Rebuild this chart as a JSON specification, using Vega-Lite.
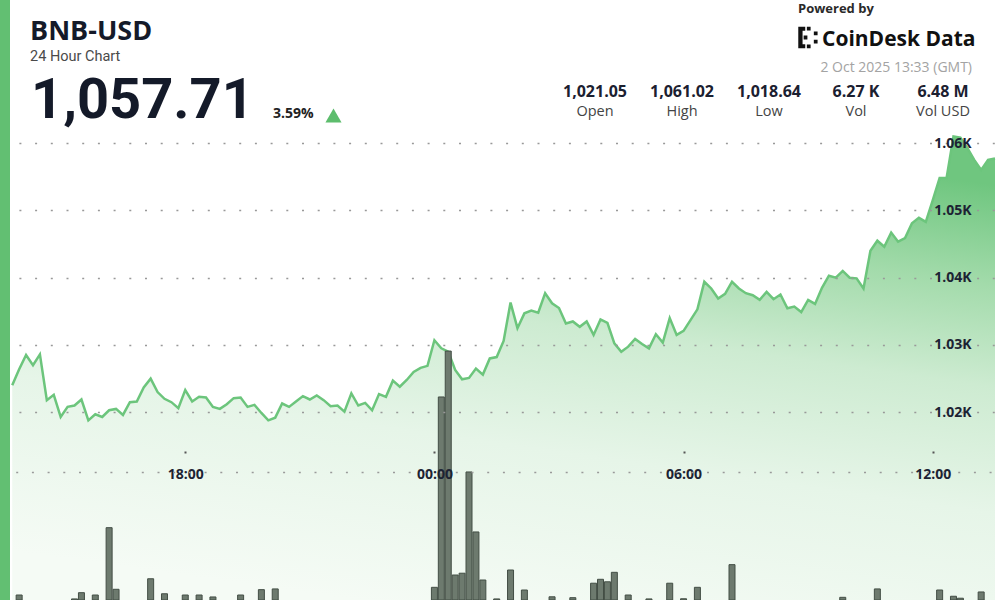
{
  "$schema": "https://vega.github.io/schema/vega-lite/v6.json",
  "padding": 0,
  "background": "#ffffff",
  "spacing": 0,
  "config": {
    "view": {"stroke": null},
    "font": "Open Sans",
    "concat": {"spacing": 0},
    "text": {"font": "Open Sans"}
  },
  "datasets": {
    "series": [
      {"t": "2025-10-01T13:50", "p": 1024.0},
      {"t": "2025-10-01T14:00", "p": 1026.4, "v": 28},
      {"t": "2025-10-01T14:10", "p": 1028.5},
      {"t": "2025-10-01T14:20", "p": 1027.0},
      {"t": "2025-10-01T14:30", "p": 1028.6},
      {"t": "2025-10-01T14:40", "p": 1021.8},
      {"t": "2025-10-01T14:50", "p": 1022.6},
      {"t": "2025-10-01T15:00", "p": 1019.3},
      {"t": "2025-10-01T15:10", "p": 1020.8},
      {"t": "2025-10-01T15:20", "p": 1021.0, "v": 6},
      {"t": "2025-10-01T15:30", "p": 1021.9, "v": 41},
      {"t": "2025-10-01T15:40", "p": 1018.8},
      {"t": "2025-10-01T15:50", "p": 1019.7, "v": 28},
      {"t": "2025-10-01T16:00", "p": 1019.3},
      {"t": "2025-10-01T16:10", "p": 1020.3, "v": 405},
      {"t": "2025-10-01T16:20", "p": 1020.5, "v": 60},
      {"t": "2025-10-01T16:30", "p": 1019.6},
      {"t": "2025-10-01T16:40", "p": 1021.5},
      {"t": "2025-10-01T16:50", "p": 1021.6},
      {"t": "2025-10-01T17:00", "p": 1023.7},
      {"t": "2025-10-01T17:10", "p": 1025.0, "v": 119},
      {"t": "2025-10-01T17:20", "p": 1023.0},
      {"t": "2025-10-01T17:30", "p": 1022.0, "v": 35},
      {"t": "2025-10-01T17:40", "p": 1021.5},
      {"t": "2025-10-01T17:50", "p": 1020.6},
      {"t": "2025-10-01T18:00", "p": 1023.3, "v": 28},
      {"t": "2025-10-01T18:10", "p": 1021.6},
      {"t": "2025-10-01T18:20", "p": 1022.3, "v": 28},
      {"t": "2025-10-01T18:30", "p": 1022.2},
      {"t": "2025-10-01T18:40", "p": 1020.8, "v": 17},
      {"t": "2025-10-01T18:50", "p": 1020.5},
      {"t": "2025-10-01T19:00", "p": 1021.2},
      {"t": "2025-10-01T19:10", "p": 1022.1},
      {"t": "2025-10-01T19:20", "p": 1022.2, "v": 28},
      {"t": "2025-10-01T19:30", "p": 1020.8},
      {"t": "2025-10-01T19:40", "p": 1021.1},
      {"t": "2025-10-01T19:50", "p": 1019.9, "v": 58},
      {"t": "2025-10-01T20:00", "p": 1018.8},
      {"t": "2025-10-01T20:10", "p": 1019.2, "v": 62},
      {"t": "2025-10-01T20:20", "p": 1021.3},
      {"t": "2025-10-01T20:30", "p": 1020.8},
      {"t": "2025-10-01T20:40", "p": 1021.6},
      {"t": "2025-10-01T20:50", "p": 1022.4},
      {"t": "2025-10-01T21:00", "p": 1021.9},
      {"t": "2025-10-01T21:10", "p": 1022.5},
      {"t": "2025-10-01T21:20", "p": 1021.8},
      {"t": "2025-10-01T21:30", "p": 1020.9},
      {"t": "2025-10-01T21:40", "p": 1021.0},
      {"t": "2025-10-01T21:50", "p": 1020.1},
      {"t": "2025-10-01T22:00", "p": 1022.8},
      {"t": "2025-10-01T22:10", "p": 1021.0},
      {"t": "2025-10-01T22:20", "p": 1021.4},
      {"t": "2025-10-01T22:30", "p": 1020.3},
      {"t": "2025-10-01T22:40", "p": 1022.7},
      {"t": "2025-10-01T22:50", "p": 1022.3},
      {"t": "2025-10-01T23:00", "p": 1024.7},
      {"t": "2025-10-01T23:10", "p": 1023.8},
      {"t": "2025-10-01T23:20", "p": 1024.8},
      {"t": "2025-10-01T23:30", "p": 1026.0},
      {"t": "2025-10-01T23:40", "p": 1026.6},
      {"t": "2025-10-01T23:50", "p": 1026.9},
      {"t": "2025-10-02T00:00", "p": 1030.7, "v": 71},
      {"t": "2025-10-02T00:10", "p": 1029.5, "v": 1137},
      {"t": "2025-10-02T00:20", "p": 1029.0, "v": 1394},
      {"t": "2025-10-02T00:30", "p": 1026.3, "v": 140},
      {"t": "2025-10-02T00:40", "p": 1024.9, "v": 150},
      {"t": "2025-10-02T00:50", "p": 1025.1, "v": 717},
      {"t": "2025-10-02T01:00", "p": 1026.5, "v": 381},
      {"t": "2025-10-02T01:10", "p": 1025.6, "v": 112},
      {"t": "2025-10-02T01:20", "p": 1028.0},
      {"t": "2025-10-02T01:30", "p": 1028.2, "v": 6},
      {"t": "2025-10-02T01:40", "p": 1030.6},
      {"t": "2025-10-02T01:50", "p": 1036.3, "v": 168},
      {"t": "2025-10-02T02:00", "p": 1032.5},
      {"t": "2025-10-02T02:10", "p": 1034.7, "v": 56},
      {"t": "2025-10-02T02:20", "p": 1035.1},
      {"t": "2025-10-02T02:30", "p": 1034.8},
      {"t": "2025-10-02T02:40", "p": 1037.7},
      {"t": "2025-10-02T02:50", "p": 1036.2, "v": 18},
      {"t": "2025-10-02T03:00", "p": 1035.5},
      {"t": "2025-10-02T03:10", "p": 1033.2},
      {"t": "2025-10-02T03:20", "p": 1033.5, "v": 13},
      {"t": "2025-10-02T03:30", "p": 1032.7},
      {"t": "2025-10-02T03:40", "p": 1033.5},
      {"t": "2025-10-02T03:50", "p": 1031.5, "v": 94},
      {"t": "2025-10-02T04:00", "p": 1033.8, "v": 116},
      {"t": "2025-10-02T04:10", "p": 1033.3, "v": 102},
      {"t": "2025-10-02T04:20", "p": 1030.25, "v": 155},
      {"t": "2025-10-02T04:30", "p": 1029.0},
      {"t": "2025-10-02T04:40", "p": 1029.75, "v": 28},
      {"t": "2025-10-02T04:50", "p": 1030.9},
      {"t": "2025-10-02T05:00", "p": 1030.15},
      {"t": "2025-10-02T05:10", "p": 1029.5, "v": 6},
      {"t": "2025-10-02T05:20", "p": 1031.6},
      {"t": "2025-10-02T05:30", "p": 1030.35},
      {"t": "2025-10-02T05:40", "p": 1034.0, "v": 94},
      {"t": "2025-10-02T05:50", "p": 1031.5},
      {"t": "2025-10-02T06:00", "p": 1032.1, "v": 7},
      {"t": "2025-10-02T06:10", "p": 1033.7},
      {"t": "2025-10-02T06:20", "p": 1035.3, "v": 71},
      {"t": "2025-10-02T06:30", "p": 1039.4},
      {"t": "2025-10-02T06:40", "p": 1038.4},
      {"t": "2025-10-02T06:50", "p": 1036.9},
      {"t": "2025-10-02T07:00", "p": 1037.6},
      {"t": "2025-10-02T07:10", "p": 1039.4, "v": 198},
      {"t": "2025-10-02T07:20", "p": 1038.4},
      {"t": "2025-10-02T07:30", "p": 1037.7},
      {"t": "2025-10-02T07:40", "p": 1037.4},
      {"t": "2025-10-02T07:50", "p": 1036.7},
      {"t": "2025-10-02T08:00", "p": 1037.9},
      {"t": "2025-10-02T08:10", "p": 1036.8},
      {"t": "2025-10-02T08:20", "p": 1037.5},
      {"t": "2025-10-02T08:30", "p": 1035.45},
      {"t": "2025-10-02T08:40", "p": 1035.7},
      {"t": "2025-10-02T08:50", "p": 1034.9},
      {"t": "2025-10-02T09:00", "p": 1036.7},
      {"t": "2025-10-02T09:10", "p": 1036.1},
      {"t": "2025-10-02T09:20", "p": 1038.5},
      {"t": "2025-10-02T09:30", "p": 1040.3},
      {"t": "2025-10-02T09:40", "p": 1040.0},
      {"t": "2025-10-02T09:50", "p": 1041.0, "v": 15},
      {"t": "2025-10-02T10:00", "p": 1040.0},
      {"t": "2025-10-02T10:10", "p": 1039.9},
      {"t": "2025-10-02T10:20", "p": 1038.4},
      {"t": "2025-10-02T10:30", "p": 1044.0},
      {"t": "2025-10-02T10:40", "p": 1045.5, "v": 62},
      {"t": "2025-10-02T10:50", "p": 1044.6},
      {"t": "2025-10-02T11:00", "p": 1046.7},
      {"t": "2025-10-02T11:10", "p": 1045.35},
      {"t": "2025-10-02T11:20", "p": 1045.9},
      {"t": "2025-10-02T11:30", "p": 1048.1},
      {"t": "2025-10-02T11:40", "p": 1048.9},
      {"t": "2025-10-02T11:50", "p": 1048.3},
      {"t": "2025-10-02T12:00", "p": 1051.5},
      {"t": "2025-10-02T12:10", "p": 1054.8, "v": 56},
      {"t": "2025-10-02T12:20", "p": 1054.8},
      {"t": "2025-10-02T12:30", "p": 1061.0, "v": 21},
      {"t": "2025-10-02T12:40", "p": 1060.8, "v": 10},
      {"t": "2025-10-02T12:50", "p": 1059.3},
      {"t": "2025-10-02T13:00", "p": 1057.5},
      {"t": "2025-10-02T13:10", "p": 1056.0, "v": 45},
      {"t": "2025-10-02T13:20", "p": 1057.5},
      {"t": "2025-10-02T13:30", "p": 1057.7}
    ],
    "stats": [
      {"stat": "Open", "val": "1,021.05"},
      {"stat": "High", "val": "1,061.02"},
      {"stat": "Low", "val": "1,018.64"},
      {"stat": "Vol", "val": "6.27 K"},
      {"stat": "Vol USD", "val": "6.48 M"}
    ]
  },
  "hconcat": [
    {
      "width": 10,
      "height": 600,
      "view": {"fill": "#62bf72", "stroke": null},
      "data": {"values": [{"s": ""}]},
      "mark": {"type": "text"},
      "encoding": {"text": {"field": "s"}}
    },
    {
      "spacing": 0,
      "vconcat": [
        {
          "width": 990,
          "height": 130,
          "layer": [
            {
              "data": {"values": [{"s": "BNB-USD"}]},
              "mark": {"type": "text", "align": "left", "baseline": "alphabetic", "font": "Open Sans", "fontSize": 27, "fontWeight": 700, "color": "#141a29", "x": 20, "y": 40},
              "encoding": {"text": {"field": "s"}}
            },
            {
              "data": {"values": [{"s": "24 Hour Chart"}]},
              "mark": {"type": "text", "align": "left", "baseline": "alphabetic", "font": "Roboto", "fontSize": 14.5, "fontWeight": 400, "color": "#4a4a4a", "x": 20, "y": 61},
              "encoding": {"text": {"field": "s"}}
            },
            {
              "data": {"values": [{"s": "1,057.71"}]},
              "mark": {"type": "text", "align": "left", "baseline": "alphabetic", "font": "Roboto", "fontSize": 56, "fontWeight": 700, "color": "#141a29", "x": 21, "y": 118},
              "encoding": {"text": {"field": "s"}}
            },
            {
              "data": {"values": [{"s": "3.59%"}]},
              "mark": {"type": "text", "align": "left", "baseline": "alphabetic", "fontSize": 14, "fontWeight": 700, "color": "#222222", "x": 263, "y": 118},
              "encoding": {"text": {"field": "s"}}
            },
            {
              "data": {"values": [{"s": "up"}]},
              "mark": {"type": "point", "shape": "triangle-up", "filled": true, "size": 260, "color": "#5dbd6d", "opacity": 1, "x": 323.5, "y": 115.5}
            },
            {
              "data": {"values": [{"s": "Powered by"}]},
              "mark": {"type": "text", "align": "left", "baseline": "alphabetic", "fontSize": 13, "fontWeight": 700, "color": "#2a2a2a", "x": 788, "y": 13},
              "encoding": {"text": {"field": "s"}}
            },
            {
              "data": {"values": [{"s": "logo"}]},
              "mark": {"type": "point", "filled": true, "color": "#111111", "opacity": 1, "size": 460, "shape": "M-1,-1H-0.35V-0.62H-0.6V0.62H-0.35V1H-1Z M-0.5,-0.18H-0.15V0.18H-0.5Z M-0.2,-1H0.15V-0.65H-0.2Z M-0.2,0.65H0.15V1H-0.2Z M0.45,-0.55H0.8V-0.2H0.45Z M0.45,0.2H0.8V0.55H0.45Z", "x": 799, "y": 37.5}
            },
            {
              "data": {"values": [{"s": "CoinDesk Data"}]},
              "mark": {"type": "text", "align": "left", "baseline": "alphabetic", "fontSize": 21, "fontWeight": 700, "color": "#111111", "x": 812, "y": 46},
              "encoding": {"text": {"field": "s"}}
            },
            {
              "data": {"values": [{"s": "2 Oct 2025 13:33 (GMT)"}]},
              "mark": {"type": "text", "align": "right", "baseline": "alphabetic", "fontSize": 14, "fontWeight": 400, "color": "#a3a3a3", "x": 962, "y": 72},
              "encoding": {"text": {"field": "s"}}
            },
            {
              "data": {"name": "stats"},
              "mark": {"type": "text", "align": "center", "baseline": "alphabetic", "fontSize": 16, "fontWeight": 700, "color": "#1b2030", "y": 97},
              "encoding": {
                "x": {"field": "stat", "type": "nominal", "sort": null, "scale": {"range": [541.5, 976.5], "paddingInner": 0, "paddingOuter": 0}, "axis": null},
                "text": {"field": "val"}
              }
            },
            {
              "data": {"name": "stats"},
              "mark": {"type": "text", "align": "center", "baseline": "alphabetic", "fontSize": 14.5, "fontWeight": 400, "color": "#444444", "y": 116},
              "encoding": {
                "x": {"field": "stat", "type": "nominal", "sort": null, "scale": {"range": [541.5, 976.5], "paddingInner": 0, "paddingOuter": 0}, "axis": null},
                "text": {"field": "stat"}
              }
            }
          ]
        },
        {
          "width": 990,
          "height": 470,
          "data": {"name": "series"},
          "layer": [
            {
              "mark": {
                "type": "area",
                "clip": true,
                "color": {
                  "gradient": "linear",
                  "x1": 0.35, "y1": 1, "x2": 0.65, "y2": 0,
                  "stops": [
                    {"offset": 0, "color": "#f5fbf5"},
                    {"offset": 0.35, "color": "#e6f5e8"},
                    {"offset": 0.6, "color": "#cdebd1"},
                    {"offset": 0.8, "color": "#a3dbab"},
                    {"offset": 1, "color": "#6fc67f"}
                  ]
                }
              },
              "encoding": {
                "x": {
                  "field": "t", "type": "temporal",
                  "scale": {"domain": [
                    {"year": 2025, "month": 10, "date": 1, "hours": 13, "minutes": 54},
                    {"year": 2025, "month": 10, "date": 2, "hours": 13, "minutes": 30}
                  ]},
                  "axis": {
                    "orient": "bottom", "offset": -128, "zindex": 1, "title": null,
                    "values": [
                      {"year": 2025, "month": 10, "date": 1, "hours": 18},
                      {"year": 2025, "month": 10, "date": 2, "hours": 0},
                      {"year": 2025, "month": 10, "date": 2, "hours": 6},
                      {"year": 2025, "month": 10, "date": 2, "hours": 12}
                    ],
                    "format": "%H:%M", "grid": false,
                    "labelFont": "Open Sans", "labelFontSize": 14, "labelFontWeight": 700, "labelColor": "#1c2333",
                    "labelBaseline": "middle", "labelPadding": 23, "labelFlush": false, "labelOverlap": false,
                    "domainColor": "#9a9a9a", "domainDash": [2, 13.7], "domainDashOffset": 10, "domainWidth": 1.5,
                    "ticks": true, "tickSize": -21, "tickDash": [0, 19, 2, 60], "tickColor": "#555555", "tickWidth": 2
                  }
                },
                "y": {
                  "field": "p", "type": "quantitative",
                  "scale": {"domain": [992.1, 1061.95], "zero": false, "nice": false},
                  "axis": {
                    "orient": "right", "zindex": 1, "title": null,
                    "values": [1020, 1030, 1040, 1050, 1060],
                    "labelExpr": "format(datum.value / 1000, '.2f') + 'K'",
                    "labelFont": "Open Sans", "labelFontSize": 14, "labelFontWeight": 700, "labelColor": "#1c2333",
                    "labelAlign": "right", "labelBaseline": "middle", "labelPadding": -29,
                    "domain": false, "ticks": false,
                    "grid": true, "gridColor": "#999999", "gridDash": [2, 13.7], "gridDashOffset": 10, "gridWidth": 1.5
                  }
                },
                "y2": {"datum": 992.1}
              }
            },
            {
              "mark": {"type": "line", "clip": true, "color": "#6cc57c", "strokeWidth": 2.5},
              "encoding": {
                "x": {"field": "t", "type": "temporal"},
                "y": {"field": "p", "type": "quantitative", "scale": {"domain": [992.1, 1061.95], "zero": false, "nice": false}, "axis": null}
              }
            },
            {
              "transform": [{"filter": "datum.v > 0"}],
              "mark": {"type": "bar", "width": 6, "clip": true, "fill": "#6d7a6e", "stroke": "#434e45", "strokeWidth": 1},
              "encoding": {
                "x": {"field": "t", "type": "temporal"},
                "y": {"field": "v", "type": "quantitative", "scale": {"domain": [0, 2632], "nice": false}, "axis": null}
              }
            }
          ],
          "resolve": {"scale": {"y": "independent"}}
        }
      ]
    }
  ]
}
